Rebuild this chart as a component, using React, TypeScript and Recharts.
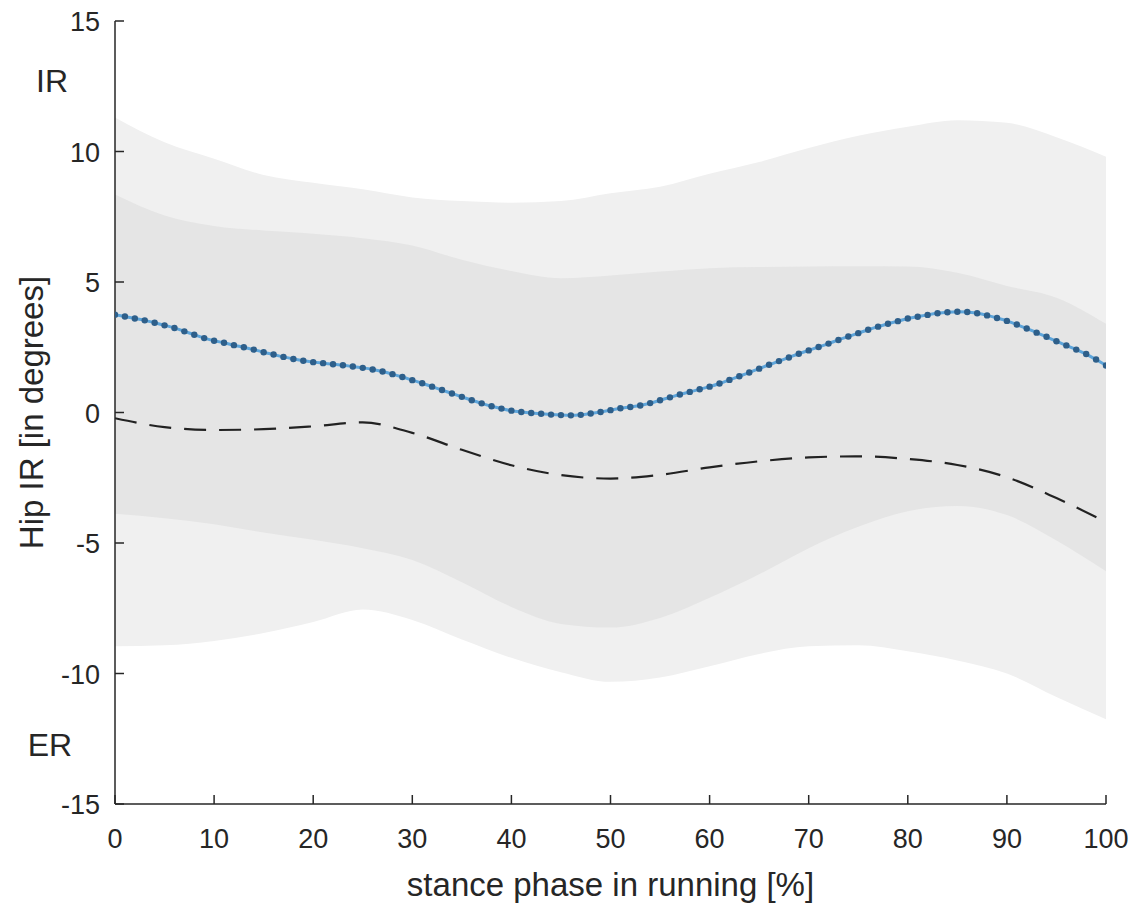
import React from "react";
import { ComposedChart, Area, Line, XAxis, YAxis } from "recharts";

// stance phase grid (percent) for the mean curve: one sample per percent
const PHASE_1: number[] = Array.from({ length: 101 }, (_, i) => i);
// coarser phase grid for bands and the dashed curve
const PHASE_5: number[] = [0, 5, 10, 15, 20, 25, 30, 35, 40, 45, 50, 55, 60, 65, 70, 75, 80, 85, 90, 95, 100];

// mean hip IR (blue dotted line)
const MEAN: number[] = [
  3.75, 3.68, 3.6, 3.53, 3.44, 3.34, 3.24, 3.11, 2.98, 2.85,
  2.75, 2.67, 2.58, 2.5, 2.41, 2.31, 2.22, 2.13, 2.05, 1.98,
  1.93, 1.89, 1.85, 1.81, 1.76, 1.71, 1.65, 1.57, 1.47, 1.36,
  1.24, 1.12, 0.99, 0.86, 0.73, 0.6, 0.47, 0.35, 0.24, 0.15,
  0.07, 0.02, -0.02, -0.05, -0.08, -0.1, -0.11, -0.09, -0.04, 0.02,
  0.09, 0.16, 0.21, 0.27, 0.36, 0.47, 0.58, 0.69, 0.79, 0.89,
  0.99, 1.11, 1.25, 1.39, 1.53, 1.68, 1.83, 1.97, 2.11, 2.25,
  2.38, 2.51, 2.64, 2.78, 2.91, 3.04, 3.17, 3.29, 3.4, 3.5,
  3.6, 3.67, 3.74, 3.8, 3.84, 3.86, 3.85, 3.8, 3.72, 3.62,
  3.51, 3.37, 3.22, 3.06, 2.9, 2.73, 2.57, 2.41, 2.24, 2.03,
  1.8,
];

// reference (dashed) curve
const DASHED: number[] = [-0.22, -0.56, -0.67, -0.64, -0.53, -0.38, -0.78, -1.43, -2.02, -2.4, -2.53, -2.39, -2.1, -1.87, -1.72, -1.68, -1.78, -2.01, -2.48, -3.28, -4.2];

// outer (light) band
const OUTER_HIGH: number[] = [11.3, 10.35, 9.72, 9.1, 8.8, 8.55, 8.24, 8.1, 8.04, 8.1, 8.4, 8.65, 9.15, 9.6, 10.13, 10.6, 10.95, 11.2, 11.1, 10.55, 9.8];
const OUTER_LOW: number[] = [-8.96, -8.92, -8.75, -8.45, -8.03, -7.55, -7.95, -8.7, -9.4, -9.95, -10.32, -10.15, -9.72, -9.25, -8.96, -8.92, -9.15, -9.5, -10.0, -10.9, -11.75];

// inner (darker) band
const INNER_HIGH: number[] = [8.35, 7.55, 7.15, 6.97, 6.85, 6.68, 6.4, 5.85, 5.42, 5.14, 5.25, 5.4, 5.53, 5.57, 5.59, 5.6, 5.59, 5.35, 4.85, 4.4, 3.4];
const INNER_LOW: number[] = [-3.88, -4.05, -4.28, -4.6, -4.88, -5.2, -5.65, -6.5, -7.45, -8.1, -8.24, -7.87, -7.1, -6.2, -5.2, -4.38, -3.78, -3.58, -3.93, -4.9, -6.08];

const X_TICKS: number[] = [0, 10, 20, 30, 40, 50, 60, 70, 80, 90, 100];
const Y_TICKS: number[] = [-15, -10, -5, 0, 5, 10, 15];

const X_LABEL = "stance phase in running [%]";
const Y_LABEL = "Hip IR [in degrees]";
const TOP_NOTE = "IR";
const BOTTOM_NOTE = "ER";

const meanData = PHASE_1.map((x, i) => ({ x, v: MEAN[i] }));
const dashedData = PHASE_5.map((x, i) => ({ x, v: DASHED[i] }));
const outerData = PHASE_5.map((x, i) => ({ x, r: [OUTER_LOW[i], OUTER_HIGH[i]] }));
const innerData = PHASE_5.map((x, i) => ({ x, r: [INNER_LOW[i], INNER_HIGH[i]] }));

const FONT = "'Liberation Sans', Arial, sans-serif";
const INK = "#262626";

const XTick = (props: any) => {
  const { x, y, payload } = props;
  return (
    <g>
      <line x1={x} y1={y} x2={x} y2={y - 9} stroke={INK} strokeWidth={1.5} />
      <text x={x} y={y + 44} textAnchor="middle" fontSize={27} fontFamily={FONT} fill={INK}>
        {payload.value}
      </text>
    </g>
  );
};

const YTick = (props: any) => {
  const { x, y, payload } = props;
  return (
    <g>
      <line x1={x} y1={y} x2={x + 9} y2={y} stroke={INK} strokeWidth={1.5} />
      <text x={x - 15} y={y + 10} textAnchor="end" fontSize={27} fontFamily={FONT} fill={INK}>
        {payload.value}
      </text>
    </g>
  );
};

const XLabel = (props: any) => {
  const vb = props.viewBox || {};
  return (
    <text x={vb.x + vb.width / 2} y={vb.y + 92} textAnchor="middle" fontSize={33} fontFamily={FONT} fill={INK}>
      {X_LABEL}
    </text>
  );
};

const YLabel = (props: any) => {
  const vb = props.viewBox || {};
  const cy = vb.y + vb.height / 2;
  return (
    <g>
      <text
        x={43}
        y={cy}
        transform={`rotate(-90 43 ${cy})`}
        textAnchor="middle"
        fontSize={33}
        fontFamily={FONT}
        fill={INK}
      >
        {Y_LABEL}
      </text>
      <text x={52} y={92} textAnchor="middle" fontSize={32} fontFamily={FONT} fill={INK}>
        {TOP_NOTE}
      </text>
      <text x={50} y={756} textAnchor="middle" fontSize={32} fontFamily={FONT} fill={INK}>
        {BOTTOM_NOTE}
      </text>
    </g>
  );
};

export default function App() {
  return (
    <div style={{ position: "absolute", left: 0, top: 0, width: 1140, height: 909, background: "#fff" }}>
      <ComposedChart width={1140} height={909} margin={{ top: 21, right: 34, bottom: 0, left: 0 }}>
        <XAxis
          type="number"
          dataKey="x"
          domain={[0, 100]}
          ticks={X_TICKS}
          interval={0}
          height={105}
          tickSize={0}
          tickMargin={0}
          tickLine={false}
          axisLine={{ stroke: INK, strokeWidth: 1.5 }}
          tick={<XTick />}
          label={<XLabel />}
          allowDataOverflow
        />
        <YAxis
          type="number"
          domain={[-15, 15]}
          ticks={Y_TICKS}
          interval={0}
          width={115}
          tickSize={0}
          tickMargin={0}
          tickLine={false}
          axisLine={{ stroke: INK, strokeWidth: 1.5 }}
          tick={<YTick />}
          label={<YLabel />}
          allowDataOverflow
        />
        <Area
          data={outerData}
          dataKey="r"
          type="monotone"
          stroke="none"
          fill="#f0f0f0"
          fillOpacity={1}
          isAnimationActive={false}
          activeDot={false}
        />
        <Area
          data={innerData}
          dataKey="r"
          type="monotone"
          stroke="none"
          fill="#e5e5e5"
          fillOpacity={1}
          isAnimationActive={false}
          activeDot={false}
        />
        <Line
          data={dashedData}
          dataKey="v"
          type="monotone"
          stroke="#222222"
          strokeWidth={2.2}
          strokeDasharray="22 13"
          dot={false}
          activeDot={false}
          isAnimationActive={false}
        />
        <Line
          data={meanData}
          dataKey="v"
          type="monotone"
          stroke="#5ea6dc"
          strokeWidth={3}
          dot={{ r: 3.2, fill: "#2e5f8a", stroke: "none" }}
          activeDot={false}
          isAnimationActive={false}
        />
      </ComposedChart>
    </div>
  );
}
